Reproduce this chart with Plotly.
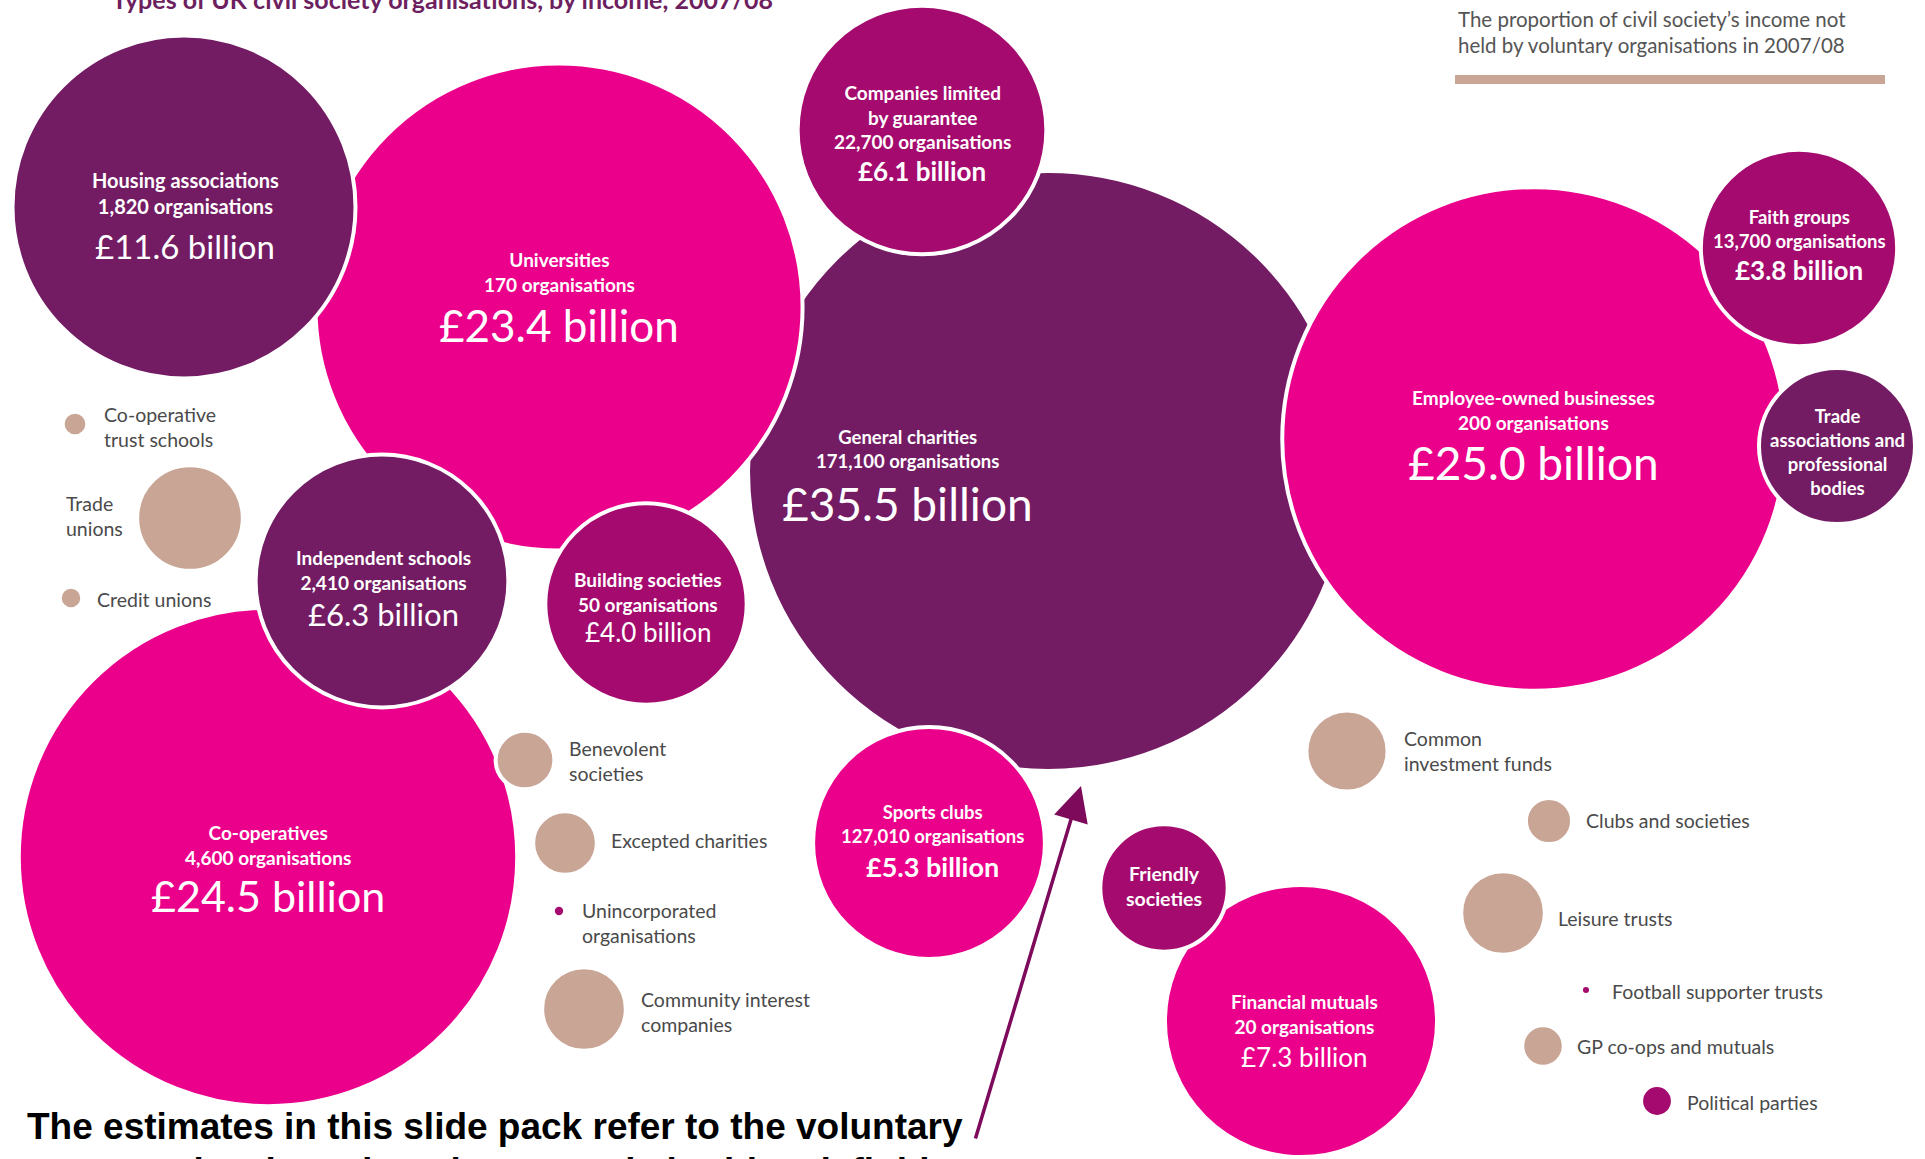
import plotly.graph_objects as go

# ---------------- data ----------------
categories = [
    "General charities", "Employee-owned businesses", "Co-operatives", "Universities",
    "Housing associations", "Financial mutuals", "Independent schools",
    "Companies limited by guarantee", "Sports clubs", "Building societies", "Faith groups",
    "Trade associations and professional bodies", "Friendly societies", "Trade unions",
    "Community interest companies", "Leisure trusts", "Common investment funds",
    "Excepted charities", "Benevolent societies", "Clubs and societies",
    "GP co-ops and mutuals", "Political parties", "Co-operative trust schools",
    "Credit unions", "Unincorporated organisations", "Football supporter trusts",
]
# income, £ billion (unlabelled ones)
income_bn = [35.5, 25.0, 24.5, 23.4, 11.6, 7.3, 6.3, 6.1, 5.3, 4.0, 3.8,
             2.4, 1.6, 1.10, 0.69, 0.69, 0.65, 0.40, 0.34, 0.21,
             0.17, 0.10, 0.06, 0.05, 0.015, 0.01]
organisations = ["171,100", "200", "4,600", "170", "1,820", "20", "2,410",
                 "22,700", "127,010", "50", "13,700", None, None, None,
                 None, None, None, None, None, None, None, None, None, None, None, None]
display_names = [
    "General charities", "Employee-owned businesses", "Co-operatives", "Universities",
    "Housing associations", "Financial mutuals", "Independent schools",
    "Companies limited<br>by guarantee", "Sports clubs", "Building societies", "Faith groups",
    "Trade<br>associations and<br>professional<br>bodies", "Friendly<br>societies",
    "Trade<br>unions", "Community interest<br>companies", "Leisure trusts",
    "Common<br>investment funds", "Excepted charities", "Benevolent<br>societies",
    "Clubs and societies", "GP co-ops and mutuals", "Political parties",
    "Co-operative<br>trust schools", "Credit unions", "Unincorporated<br>organisations",
    "Football supporter trusts",
]
colour_group = ["purple", "magenta", "magenta", "magenta", "purple", "magenta", "purple",
                "plum", "magenta", "plum", "plum", "purple", "plum", "tan",
                "tan", "tan", "tan", "tan", "tan", "tan", "tan", "plum", "tan", "tan",
                "plum", "plum"]
label_inside = [True] * 13 + [False] * 13

title_text = "Types of UK civil society organisations, by income, 2007/08"
legend_text = ["The proportion of civil society\u2019s income not",
               "held by voluntary organisations in 2007/08"]
note_text = ["The estimates in this slide pack refer to the voluntary",
             "sector only \u2013 based on the general charities definition"]

# ---------------- layout (pixel positions) ----------------
bubble_x = [1048, 1534, 268, 559, 184, 1301, 382, 922, 929, 646, 1799, 1837, 1164,
            190, 584, 1503, 1347, 565, 525, 1549, 1543, 1657, 75, 71, 559, 1586]
bubble_y = [471, 439, 857, 307, 207, 1021, 581, 130, 843, 604, 248, 446, 888,
            518, 1009, 913, 751, 843, 760, 821, 1046, 1101, 424, 598, 911, 990]
# labels: centre x (left x for outside labels), name-block centre y, value y
label_x = [907, 1533, 268, 559, 185, 1304, 383, 922, 932, 648, 1799, 1837, 1164,
           64, 639, 1556, 1402, 609, 567, 1584, 1575, 1685, 102, 95, 580, 1610]
label_y = [449, 410, 845, 272, 193, 1014, 570, 117, 824, 592, 229, 452, 886,
           516, 1012, 918, 751, 840, 761, 820, 1046, 1102, 427, 599, 923, 991]
value_y = [503, 462, 895, 325, 246, 1057, 614, 171, 866, 632, 270, None, None]
value_size = [46, 46, 43, 44, 33, 26, 31, 26, 27, 26, 26, None, None]
value_bold = [False, False, False, False, False, False, False, True, True, False, True, None, None]
name_size = [18.5, 19, 19, 19, 20, 19, 19, 19, 18.5, 19, 18.5, 18.5, 19.5]

colours = {"purple": "#731c63", "magenta": "#eb008b", "plum": "#a50a6e", "tan": "#c9a596"}
W, H = 1925, 1159
diam_per_sqrt_bn = 100.7          # px of diameter per sqrt(£bn)
sizeref = 2.0 / diam_per_sqrt_bn ** 2

fig = go.Figure()
fig.add_trace(go.Scatter(
    x=bubble_x, y=bubble_y, mode="markers",
    text=categories, hoverinfo="text",
    marker=dict(size=income_bn, sizemode="area", sizeref=sizeref, sizemin=0,
                color=[colours[g] for g in colour_group], opacity=1,
                line=dict(color="white", width=4)),
    showlegend=False,
))

annotations = []
for i, name in enumerate(display_names):
    if label_inside[i]:
        txt = "<b>" + name + "</b>"
        if organisations[i]:
            txt += "<br><b>" + organisations[i] + " organisations</b>"
        annotations.append(dict(x=label_x[i], y=label_y[i], text=txt, showarrow=False,
                                xanchor="center", yanchor="middle", align="center",
                                font=dict(family="Lato", size=name_size[i], color="white")))
        if value_y[i] is not None:
            v = "\u00a3%.1f billion" % income_bn[i]
            if value_bold[i]:
                v = "<b>" + v + "</b>"
            annotations.append(dict(x=label_x[i], y=value_y[i], text=v, showarrow=False,
                                    xanchor="center", yanchor="middle",
                                    font=dict(family="Lato", size=value_size[i], color="white")))
    else:
        annotations.append(dict(x=label_x[i], y=label_y[i], text=name, showarrow=False,
                                xanchor="left", yanchor="middle", align="left",
                                font=dict(family="Lato", size=19.5, color="#4a4a4a")))

# title (cut off at the top edge)
annotations.append(dict(xref="paper", yref="paper", x=442 / W, y=1 + 1 / H, text="<b>" + title_text + "</b>",
                        showarrow=False, xanchor="center", yanchor="middle",
                        font=dict(family="Lato", size=25, color="#6d1f5f")))
# legend text top right
annotations.append(dict(x=1456, y=19, text=legend_text[0], showarrow=False, xanchor="left", yanchor="middle",
                        font=dict(family="Lato", size=20.5, color="#555555")))
annotations.append(dict(x=1456, y=45, text=legend_text[1], showarrow=False, xanchor="left", yanchor="middle",
                        font=dict(family="Lato", size=20.5, color="#555555")))
# bottom note
annotations.append(dict(x=25, y=1126, text="<b>" + note_text[0] + "</b>", showarrow=False,
                        xanchor="left", yanchor="middle",
                        font=dict(family="Liberation Sans, Arial", size=37, color="black")))
annotations.append(dict(xref="paper", yref="paper", x=25 / W, y=-12 / H, text="<b>" + note_text[1] + "</b>",
                        showarrow=False, xanchor="left", yanchor="middle",
                        font=dict(family="Liberation Sans, Arial", size=37, color="black")))
# arrow pointing at general charities
annotations.append(dict(x=1081, y=786, ax=975, ay=1140, axref="x", ayref="y", text="",
                        showarrow=True, arrowhead=2, arrowsize=2.0, arrowwidth=3.5,
                        arrowcolor="#7e0a5c"))

shapes = [dict(type="rect", xref="x", yref="y", x0=1455, x1=1885, y0=75, y1=84,
               fillcolor="#c9a596", line=dict(width=0), layer="above")]

fig.update_layout(
    width=W, height=H, autosize=False,
    margin=dict(l=0, r=0, t=0, b=0),
    paper_bgcolor="white", plot_bgcolor="white",
    xaxis=dict(range=[0, W], visible=False, fixedrange=True),
    yaxis=dict(range=[H, 0], visible=False, fixedrange=True),
    annotations=annotations, shapes=shapes,
    hovermode="closest",
)

fig.write_html("out.html", config={"displayModeBar": False},
               post_script="document.body.style.margin='0';document.body.style.overflow='hidden';")
